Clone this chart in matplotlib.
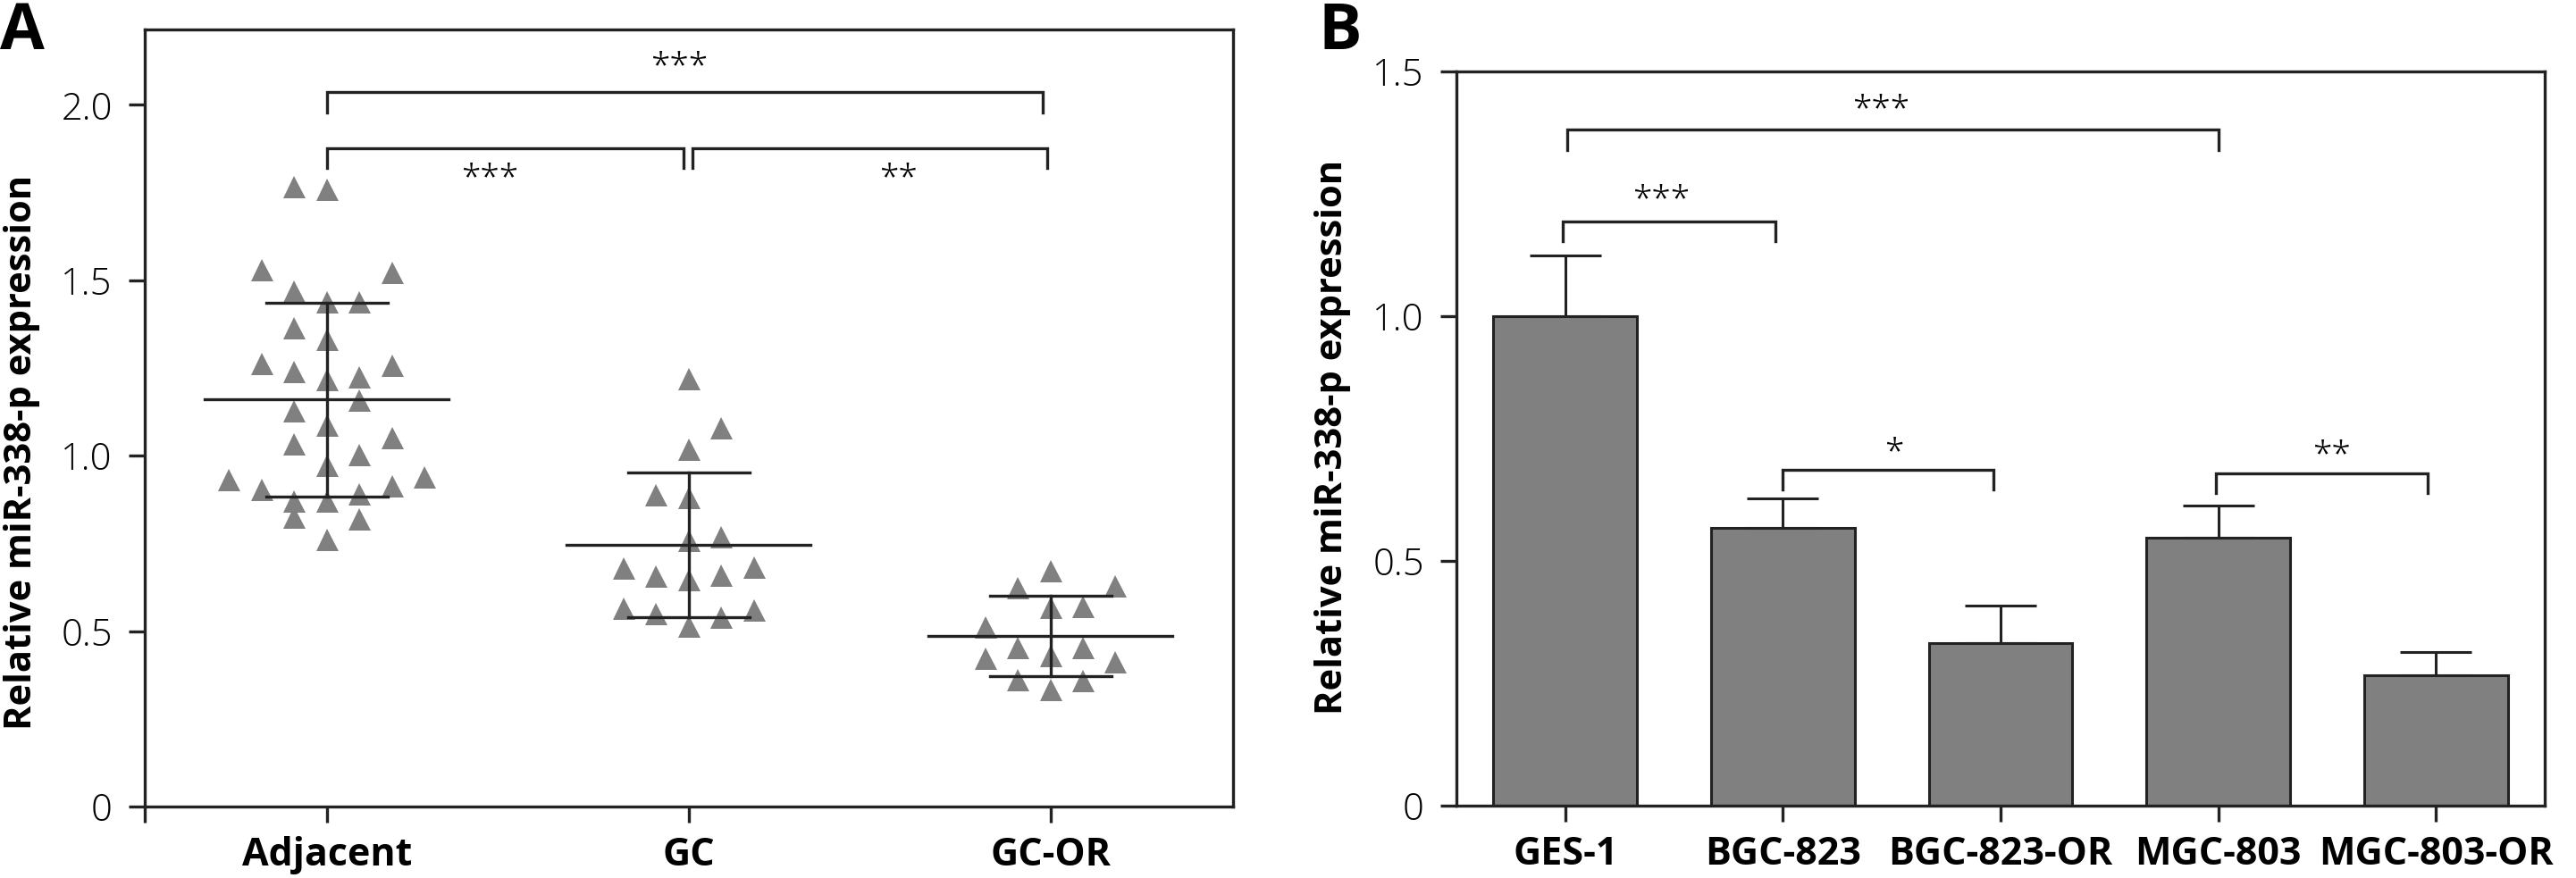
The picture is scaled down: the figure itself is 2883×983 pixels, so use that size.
import matplotlib
matplotlib.use("Agg")
import matplotlib.pyplot as plt
import numpy as np


# Panel A data
groups_a = ["Adjacent", "GC", "GC-OR"]
adjacent = [1.767, 1.759, 1.531, 1.523, 1.469, 1.439, 1.439, 1.364, 1.332, 1.263,
            1.241, 1.218, 1.224, 1.258, 1.159, 1.128, 1.088, 1.034, 1.004, 1.051,
            0.972, 0.932, 0.903, 0.915, 0.940, 0.890, 0.872, 0.870, 0.826, 0.821,
            0.762]
adjacent_slot = [-1, 0, -2, 2, -1, 0, 1, -1, 0, -2, -1, 0, 1, 2, 1, -1, 0, -1, 1, 2,
                 0, -3, -2, 2, 3, 1, -1, 0, -1, 1, 0]
gc = [1.220, 1.080, 1.018, 0.889, 0.882, 0.759, 0.770, 0.681, 0.657, 0.646,
      0.660, 0.683, 0.566, 0.550, 0.514, 0.541, 0.560]
gc_slot = [0, 1, 0, -1, 0, 0, 1, -2, -1, 0, 1, 2, -2, -1, 0, 1, 2]
gc_or = [0.673, 0.623, 0.629, 0.568, 0.571, 0.511, 0.453, 0.430, 0.452, 0.422,
         0.412, 0.361, 0.333, 0.360]
gc_or_slot = [0, -1, 2, 0, 1, -2, -1, 0, 1, -2, 2, -1, 0, 1]
means_a = [1.160, 0.747, 0.486]
sd_a = [0.277, 0.206, 0.114]

# brackets: (x1, x2, y, drop, text, text_x, text_y)
brackets_a = [(0.0, 1.98, 2.036, 0.058, "***", 0.975, 2.139),
              (0.0, 0.985, 1.877, 0.057, "***", 0.45, 1.82),
              (1.01, 1.99, 1.877, 0.057, "**", 1.58, 1.82)]

# Panel B data
groups_b = ["GES-1", "BGC-823", "BGC-823-OR", "MGC-803", "MGC-803-OR"]
expr_b = [1.0, 0.567, 0.332, 0.547, 0.266]
err_b = [0.124, 0.061, 0.077, 0.065, 0.048]
brackets_b = [(0.01, 3.0, 1.381, 0.041, "***", 1.45, 1.443),
              (-0.01, 0.965, 1.193, 0.040, "***", 0.44, 1.259),
              (1.0, 1.965, 0.686, 0.040, "*", 1.51, 0.741),
              (2.99, 3.96, 0.678, 0.040, "**", 3.52, 0.736)]

ink = "#222222"
grey = "#808080"
lw = 2.4
font = "Open Sans"

fig = plt.figure(figsize=(28.83, 9.83), dpi=100)
axA = fig.add_axes([0.0562, 0.0814, 0.4225, 0.885])
axB = fig.add_axes([0.5654, 0.0827, 0.4225, 0.8359])

for ax in (axA, axB):
    for s in ax.spines.values():
        s.set_linewidth(lw)
        s.set_color(ink)
    ax.tick_params(axis="both", direction="out", length=13, width=lw, color=ink)
    ax.tick_params(axis="y", pad=13)
    ax.tick_params(axis="x", pad=11)


def draw_brackets(ax, brackets):
    for x1, x2, y, drop, txt, tx, ty in brackets:
        ax.plot([x1, x1, x2, x2], [y - drop, y, y, y - drop], color=ink, lw=lw,
                solid_joinstyle="miter", clip_on=False)
        ax.annotate(txt, (tx, ty), xytext=(0, -16.5), textcoords="offset points",
                    ha="center", va="baseline", fontsize=28, family=font,
                    fontweight="light", color="black")


# Panel A: scatter with mean and SD
step = 0.09
for i, (vals, slots) in enumerate([(adjacent, adjacent_slot), (gc, gc_slot),
                                   (gc_or, gc_or_slot)]):
    xs = i + np.array(slots) * step
    axA.plot(xs, vals, linestyle="none", marker="^", markersize=18,
             color=grey, markeredgewidth=0, zorder=2)
    m, s = means_a[i], sd_a[i]
    axA.plot([i - 0.337, i + 0.337], [m, m], color=ink, lw=lw, zorder=3)
    axA.plot([i - 0.168, i + 0.168], [m + s, m + s], color=ink, lw=lw, zorder=3)
    axA.plot([i - 0.168, i + 0.168], [m - s, m - s], color=ink, lw=lw, zorder=3)
    axA.plot([i, i], [m - s, m + s], color=ink, lw=lw, zorder=3)

draw_brackets(axA, brackets_a)
axA.set_xlim(-0.503, 2.505)
axA.set_ylim(0, 2.215)
axA.set_xticks(range(len(groups_a)))
axA.set_xticks([-0.503], minor=True)
axA.tick_params(axis="x", which="minor", direction="out", length=13, width=lw, color=ink)
axA.set_xticklabels(groups_a, fontsize=31, fontweight="bold", family=font)
axA.set_yticks([0, 0.5, 1.0, 1.5, 2.0])
axA.set_yticklabels(["0", "0.5", "1.0", "1.5", "2.0"], fontsize=30,
                    family=font, fontweight="light")

# Panel B: bars with upper error bars
xb = np.arange(len(groups_b))
axB.bar(xb, expr_b, width=0.66, color=grey, edgecolor=ink, linewidth=2.2, zorder=2)
axB.errorbar(xb, expr_b, yerr=[np.zeros(len(err_b)), err_b], fmt="none",
             ecolor=ink, elinewidth=2.2, capsize=29, capthick=2.2, zorder=3)
draw_brackets(axB, brackets_b)
axB.set_xlim(-0.5, 4.5)
axB.set_ylim(0, 1.5)
axB.set_xticks(xb)
axB.set_xticklabels(groups_b, fontsize=31, fontweight="bold", family=font)
axB.set_yticks([0, 0.5, 1.0, 1.5])
axB.set_yticklabels(["0", "0.5", "1.0", "1.5"], fontsize=30,
                    family=font, fontweight="light")

ylab = "Relative miR-338-p expression"
fig.text(25 / 2883, 1 - 506 / 983, ylab, rotation=90, ha="center", va="center",
         fontsize=30, fontweight="bold", family=font)
fig.text(1491 / 2883, 1 - 489 / 983, ylab, rotation=90, ha="center", va="center",
         fontsize=30, fontweight="bold", family=font)

fig.text(0.0, 1.0, "A", ha="left", va="top", fontsize=52, fontweight="bold", family=font)
fig.text(1475 / 2883, 1.0, "B", ha="left", va="top", fontsize=52, fontweight="bold", family=font)

fig.savefig("out.png", dpi=100)
